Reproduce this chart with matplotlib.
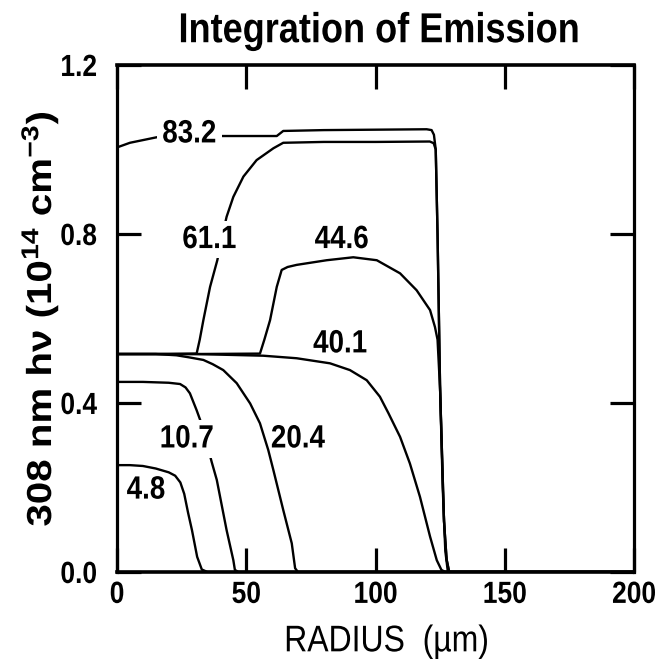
import matplotlib
matplotlib.use("Agg")
import matplotlib.pyplot as plt
from matplotlib.patheffects import AbstractPathEffect
from matplotlib.transforms import Affine2D

# Radial emission profiles: radius (um) and photon density (1e14 cm^-3)
r_48 = [0, 5, 10, 15, 20, 22.5, 24.5, 26, 27.5, 29, 31, 32.8, 35, 200]
v_48 = [0.253, 0.253, 0.251, 0.245, 0.236, 0.228, 0.212, 0.185, 0.14, 0.099, 0.036, 0.006, 0, 0]

r_107 = [0, 10, 20, 24.4, 26.5, 28.2, 30.8, 32.4, 34.5, 36.6, 38.6, 42.4, 45, 45.6, 47, 200]
v_107 = [0.450, 0.450, 0.448, 0.445, 0.437, 0.423, 0.383, 0.356, 0.31, 0.261, 0.218, 0.099, 0.028, 0.005, 0, 0]

r_204 = [0, 15, 23, 28, 33.4, 37, 41.1, 46.3, 51.5, 55.3, 58.5, 60.5, 64.3, 67.6, 68.9, 70, 200]
v_204 = [0.516, 0.516, 0.513, 0.508, 0.502, 0.492, 0.478, 0.447, 0.399, 0.352, 0.289, 0.241, 0.147, 0.068, 0.009, 0, 0]

r_401 = [0, 30, 56.6, 69.5, 82.4, 90.1, 96.6, 101.7, 105, 109.5, 113.3, 117.2, 121.1, 123.7, 125.5, 127, 200]
v_401 = [0.516, 0.516, 0.512, 0.506, 0.494, 0.478, 0.454, 0.415, 0.376, 0.32, 0.257, 0.178, 0.084, 0.028, 0.005, 0, 0]

r_446 = [0, 30, 55.3, 57, 59.2, 61.8, 63.7, 66, 69.5, 81.1, 91.4, 100.5, 109.5, 115.9, 121.1, 123, 124, 125, 126, 127, 128, 200]
v_446 = [0.516, 0.516, 0.517, 0.55, 0.596, 0.675, 0.715, 0.722, 0.727, 0.738, 0.745, 0.738, 0.707, 0.667, 0.62, 0.58, 0.55, 0.43, 0.2, 0.05, 0, 0]

r_611 = [0, 20, 30.8, 32, 33.4, 36, 38.8, 40.5, 42.4, 45, 48.9, 54, 60.5, 64.3, 80, 100, 121, 122.5, 123.3, 124, 125, 126.5, 127.5, 128.5, 200]
v_611 = [0.516, 0.516, 0.517, 0.55, 0.596, 0.675, 0.738, 0.79, 0.841, 0.888, 0.936, 0.975, 1.003, 1.016, 1.018, 1.018, 1.019, 1.015, 1.0, 0.8, 0.43, 0.12, 0.03, 0, 0]

r_832 = [0, 5, 15.3, 25, 35, 45, 61.8, 64.3, 80, 100, 119.8, 121.7, 122.6, 123.3, 124, 125, 126.5, 127.5, 128.5, 200]
v_832 = [1.005, 1.016, 1.029, 1.032, 1.032, 1.032, 1.032, 1.044, 1.046, 1.047, 1.048, 1.046, 1.035, 1.0, 0.8, 0.43, 0.12, 0.03, 0, 0]

# Curve labels (time in ns) and where they sit
labels = ["4.8", "10.7", "20.4", "40.1", "44.6", "61.1", "83.2"]
label_x = [11.2, 27, 70, 86.3, 86.9, 35.7, 28]
label_y = [0.194, 0.315, 0.315, 0.54, 0.787, 0.787, 1.037]
label_gap = [False, True, False, False, False, True, True]

x_ticks = [0, 50, 100, 150, 200]
y_ticks = [0.0, 0.4, 0.8, 1.2]
y_ticklabels = ["0.0", "0.4", "0.8", "1.2"]


class TallText(AbstractPathEffect):
    """Draw glyphs stretched vertically about their own centre (condensed look)."""

    def __init__(self, sy=1.16):
        super().__init__()
        self.sy = sy

    def draw_path(self, renderer, gc, tpath, affine, rgbFace=None):
        ext = tpath.get_extents(affine)
        cy = 0.5 * (ext.y0 + ext.y1)
        stretch = Affine2D().translate(0, -cy).scale(1, self.sy).translate(0, cy)
        renderer.draw_path(gc, tpath, affine + stretch, rgbFace)


TALL = [TallText(1.16)]
SANS = ["Liberation Sans", "DejaVu Sans"]
plt.rcParams["mathtext.fontset"] = "custom"
plt.rcParams["mathtext.rm"] = "Liberation Sans:bold"
plt.rcParams["mathtext.bf"] = "Liberation Sans:bold"
plt.rcParams["mathtext.it"] = "Liberation Sans:bold"

fig = plt.figure(figsize=(6.6, 6.61), dpi=100)
ax = fig.add_axes([0.1773, 0.1346, 0.7833, 0.7670])

for r, v in [(r_48, v_48), (r_107, v_107), (r_204, v_204), (r_401, v_401),
             (r_446, v_446), (r_611, v_611), (r_832, v_832)]:
    ax.plot(r, v, color="black", lw=1.7, solid_joinstyle="round", zorder=2)

for t, x, y, gap in zip(labels, label_x, label_y, label_gap):
    kw = dict(ha="center", va="center", fontsize=20, fontweight="bold",
              family=SANS, zorder=3, path_effects=TALL)
    if gap:
        kw["bbox"] = dict(boxstyle="square,pad=0.2", fc="white", ec="none")
    ax.text(x, y, t, **kw)

ax.set_xlim(0, 200)
ax.set_ylim(0, 1.2)
ax.set_xticks(x_ticks)
ax.set_yticks(y_ticks)
ax.set_yticklabels(y_ticklabels)
ax.tick_params(direction="in", length=17, width=2.3, top=True, right=True,
               labelsize=19)
ax.tick_params(axis="x", pad=7.5)
ax.tick_params(axis="y", pad=14.4)
for lab in ax.get_xticklabels() + ax.get_yticklabels():
    lab.set_fontweight("bold")
    lab.set_family(SANS)
    lab.set_path_effects(TALL)
for side, s in ax.spines.items():
    s.set_linewidth(2.6 if side in ("top", "bottom") else 2.3)

ax.set_title("Integration of Emission", fontsize=26, fontweight="bold",
             family=SANS, pad=17.5, x=0.507, path_effects=TALL)
ax.set_xlabel("RADIUS  (\u00b5m)", fontsize=23, family=SANS, path_effects=TALL)
ax.xaxis.label.set_verticalalignment("center")
ax.xaxis.set_label_coords(0.522, -0.138)
ax.set_ylabel(r"308 nm h$\nu$ (10$^{14}$ cm$^{-3}$)", fontsize=25,
              fontweight="bold", family=SANS, labelpad=0, path_effects=TALL)

fig.savefig("out.png", dpi=100)
